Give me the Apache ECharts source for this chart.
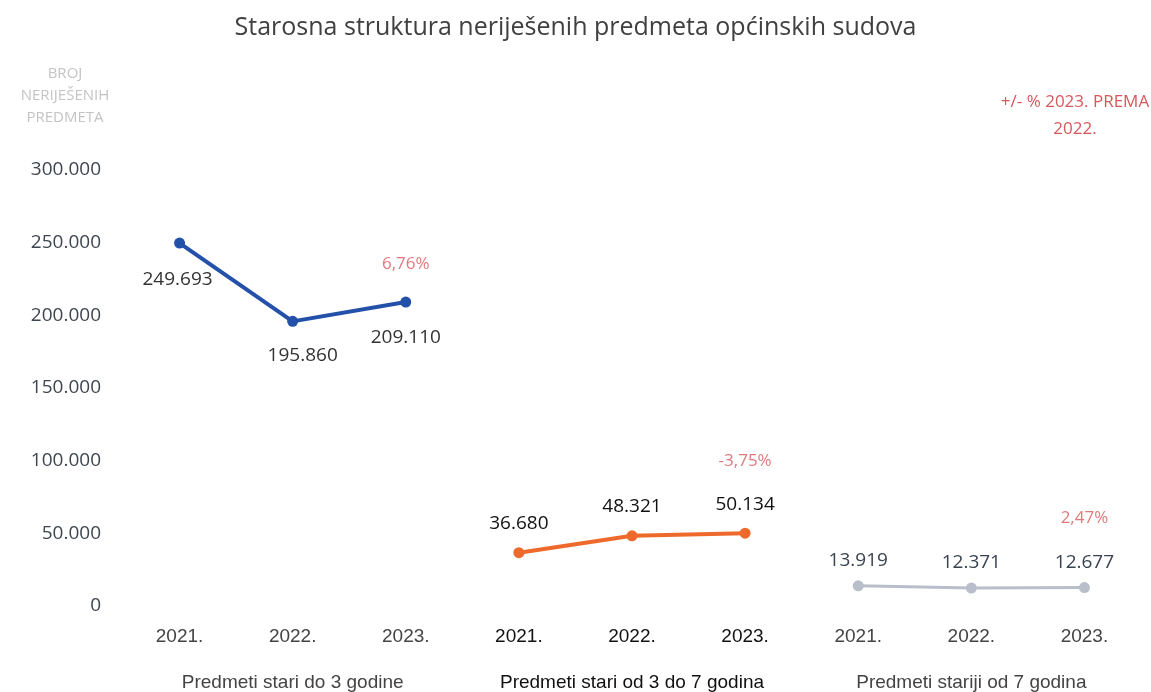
<!DOCTYPE html>
<html>
<head>
<meta charset="utf-8">
<script src="https://cdn.jsdelivr.net/npm/echarts@6/dist/echarts.min.js"></script>
<style>
html,body{margin:0;padding:0;background:#fff;}
#main{width:1151px;height:692px;}
</style>
</head>
<body>
<div id="main"></div>
<script>
var years = ['2021.','2022.','2023.','2021.','2022.','2023.','2021.','2022.','2023.'];
var groups = ['Predmeti stari do 3 godine','Predmeti stari od 3 do 7 godina','Predmeti stariji od 7 godina'];
var doTri = [249693,195860,209110,null,null,null,null,null,null];
var triSedam = [null,null,null,36680,48321,50134,null,null,null];
var preko7 = [null,null,null,null,null,null,13919,12371,12677];
var postoci = [null,null,'6,76%',null,null,'-3,75%',null,null,'2,47%'];
var postociY = [null,null,209110,null,null,50134,null,null,12677];
var yTicks = [0,50000,100000,150000,200000,250000,300000];

function hr(v){
	if(v===0) return '0';
	var s = String(Math.round(v));
	return s.replace(/\B(?=(\d{3})+(?!\d))/g,'.');
}

var myChart = echarts.init(document.getElementById('main'));
var font = '"Open Sans", "DejaVu Sans", sans-serif';
var narrow = '"Liberation Sans Narrow", "Liberation Sans", sans-serif';

var option = {
	title:[{
		text:'Starosna struktura neriješenih predmeta općinskih sudova',
		left:'center',
		top:10,
		textStyle:{color:'#404040',fontSize:25,fontWeight:'normal',fontFamily:font}
	},{
		text:'BROJ\nNERIJEŠENIH\nPREDMETA',
		left:60,
		top:58,
		textAlign:'center',
		textStyle:{color:'#c4c4c4',fontSize:15,fontWeight:'normal',fontFamily:font,lineHeight:22}
	},{
		text:'+/- % 2023. PREMA\n2022.',
		left:1070,
		top:84,
		textAlign:'center',
		textStyle:{color:'#d9575b',fontSize:17,fontWeight:'normal',fontFamily:font,lineHeight:27}
	}],
	grid:{left:123,right:10,top:170,bottom:86},
	xAxis:[{
		type:'category',
		data:years.map(function(y,i){
			return {value:y,textStyle:{color:(i>=3&&i<=5)?'#111':'#444'}};
		}),
		axisLine:{show:false},
		axisTick:{show:false},
		axisLabel:{fontSize:19,fontFamily:narrow,margin:21,interval:0}
	},{
		type:'category',
		position:'bottom',
		data:groups.map(function(g,i){
			return {value:g,textStyle:{color:i==1?'#111':'#444'}};
		}),
		axisLine:{show:false},
		axisTick:{show:false},
		axisLabel:{fontSize:19,fontFamily:narrow,margin:67,interval:0,hideOverlap:false}
	}],
	yAxis:{
		type:'value',
		min:0,
		max:300000,
		interval:50000,
		splitLine:{show:false},
		axisLine:{show:false},
		axisTick:{show:false},
		axisLabel:{
			color:'#3f4650',fontSize:19,fontFamily:font,margin:22,
			formatter:function(v){return hr(v);}
		}
	},
	series:[{
		type:'line',
		name:groups[0],
		data:doTri,
		connectNulls:false,
		symbol:'circle',
		symbolSize:11,
		lineStyle:{width:4,color:'#2350a8'},
		itemStyle:{color:'#2350a8'},
		label:{
			show:true,position:'bottom',distance:17,
			fontSize:19,fontFamily:font,color:'#333',
			formatter:function(p){return hr(p.value);}
		},
		labelLayout:function(p){
			if(p.dataIndex===0) return {dx:-2,dy:4};
			if(p.dataIndex===1) return {dx:10,dy:2};
			return {dy:4};
		}
	},{
		type:'line',
		name:groups[1],
		data:triSedam,
		symbol:'circle',
		symbolSize:11,
		lineStyle:{width:4,color:'#ee6a2c'},
		itemStyle:{color:'#ee6a2c'},
		label:{
			show:true,position:'top',distance:14,
			fontSize:19,fontFamily:font,color:'#111',
			formatter:function(p){return hr(p.value);}
		}
	},{
		type:'line',
		name:groups[2],
		data:preko7,
		symbol:'circle',
		symbolSize:11,
		lineStyle:{width:3,color:'#b9bfca'},
		itemStyle:{color:'#b9bfca'},
		label:{
			show:true,position:'top',distance:10,
			fontSize:19,fontFamily:font,color:'#3a4350',
			formatter:function(p){return hr(p.value);}
		}
	},{
		type:'scatter',
		name:'postotak',
		data:postociY,
		symbolSize:0,
		silent:true,
		label:{
			show:true,position:'top',
			fontSize:17,fontFamily:font,color:'#d9575b',
			formatter:function(p){return postoci[p.dataIndex];}
		},
		labelLayout:function(p){
			if(p.dataIndex===2) return {dy:-24};
			if(p.dataIndex===5) return {dy:-58};
			return {dy:-56};
		}
	}]
};
myChart.setOption(option);
</script>
</body>
</html>
